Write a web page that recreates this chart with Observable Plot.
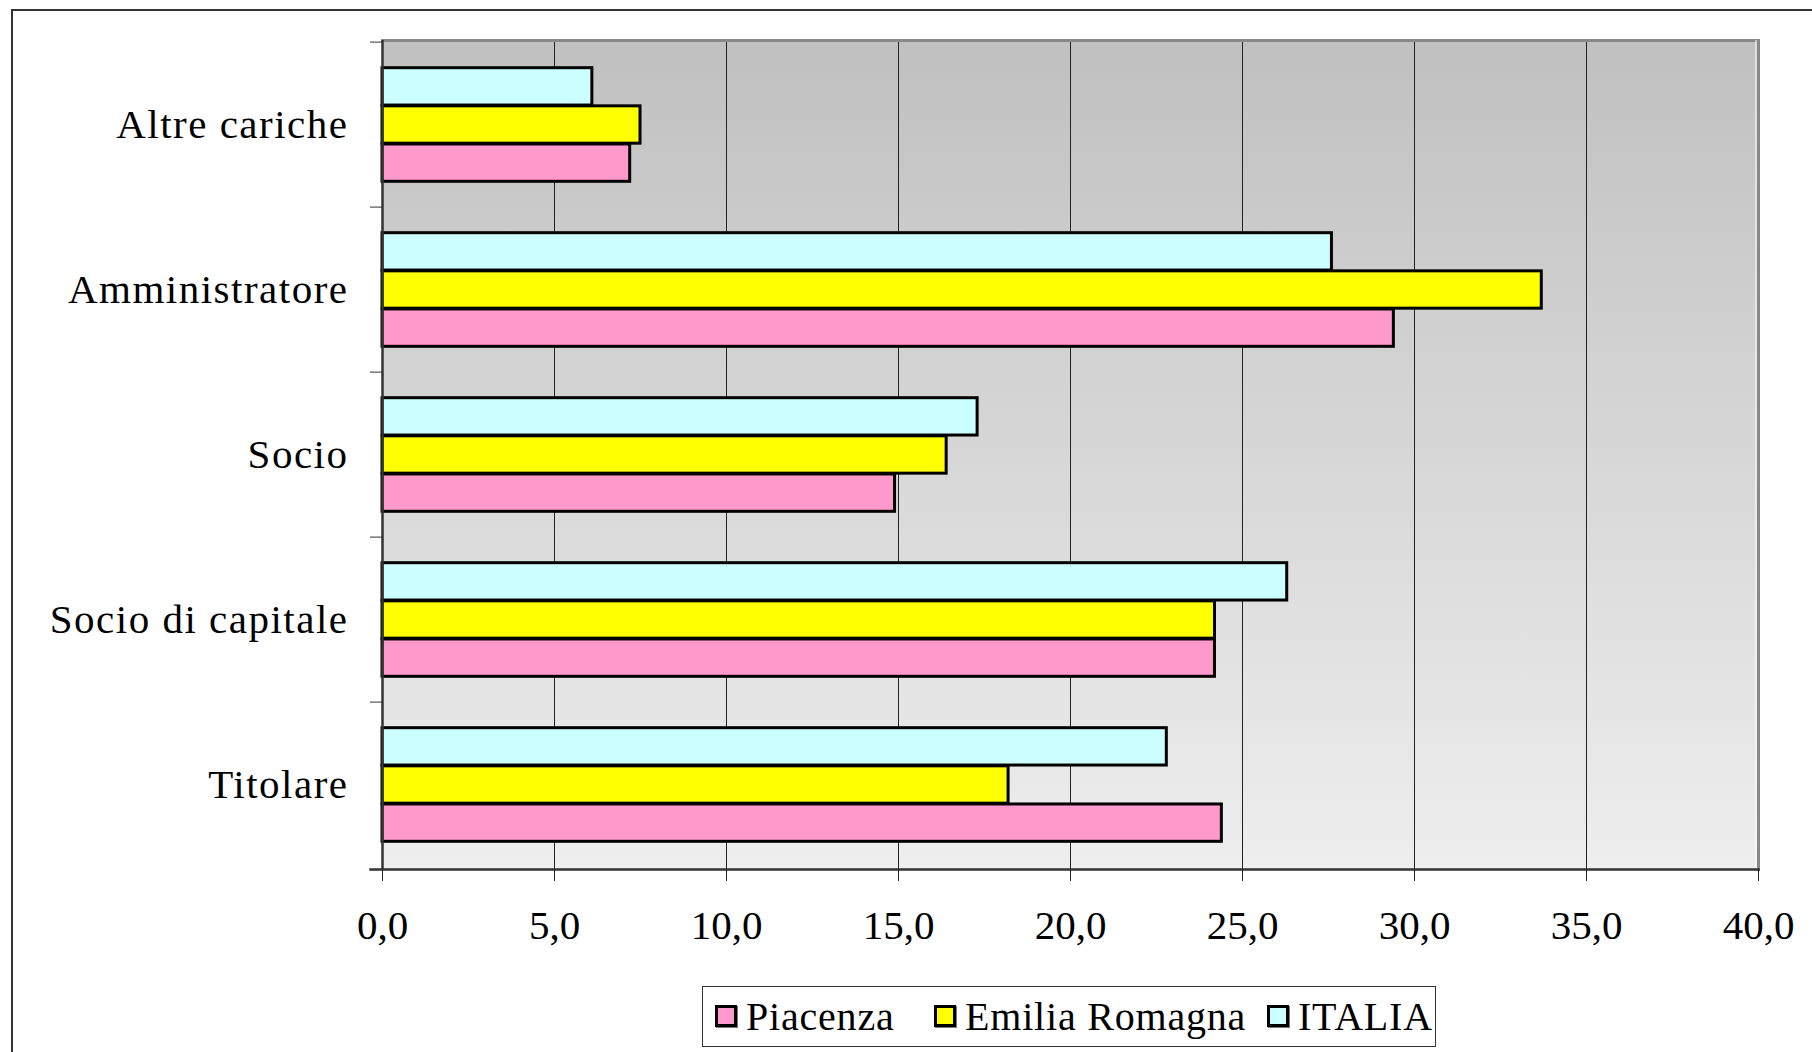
<!DOCTYPE html>
<html>
<head>
<meta charset="utf-8">
<script src="https://cdn.jsdelivr.net/npm/d3@7"></script>
<script src="https://cdn.jsdelivr.net/npm/@observablehq/plot@0.6"></script>
<style>
  html, body { margin: 0; padding: 0; background: #fff; }
  body { width: 1812px; height: 1052px; overflow: hidden; position: relative; font-family: "Liberation Serif", serif; }
  #outer { position: absolute; left: 11px; top: 9px; width: 1900px; height: 1200px; border: 2px solid #333; }
  #chart { position: absolute; left: 0; top: 0; }
  #chart svg g[aria-label="y-axis tick label"] text { letter-spacing: 1.5px; }
  #legend { position: absolute; left: 702px; top: 986px; width: 734px; height: 61px; box-sizing: border-box;
            border: 1.5px solid #333; background: #fff; }
  .item { position: absolute; top: 0; height: 58px; display: flex; align-items: center; }
  .sw { width: 16px; height: 16px; border: 3px solid #000; margin-right: 9px; box-shadow: 1px 1px 0 #777; }
  .lab { font-size: 40px; letter-spacing: 0.8px; color: #000; line-height: 1; padding-top: 2px; }
</style>
</head>
<body>
<svg width="0" height="0" style="position:absolute">
  <defs>
    <linearGradient id="bg" x1="0" y1="0" x2="0" y2="1">
      <stop offset="0" stop-color="#c0c0c0"/>
      <stop offset="1" stop-color="#eeeeee"/>
    </linearGradient>
  </defs>
</svg>
<div id="outer"></div>
<div id="chart"></div>
<div id="legend"></div>
<script>
// ---- data ----
const categories = ["Altre cariche", "Amministratore", "Socio", "Socio di capitale", "Titolare"];
const seriesNames = ["Piacenza", "Emilia Romagna", "ITALIA"];
const piacenza = [7.2, 29.4, 14.9, 24.2, 24.4];
const emilia   = [7.5, 33.7, 16.4, 24.2, 18.2];
const italia   = [6.1, 27.6, 17.3, 26.3, 22.8];
const seriesColors = ["#ff99cc", "#ffff00", "#ccffff"];
const xTicks = [0, 5, 10, 15, 20, 25, 30, 35, 40];
const xTickLabels = ["0,0", "5,0", "10,0", "15,0", "20,0", "25,0", "30,0", "35,0", "40,0"];

const seriesValues = [piacenza, emilia, italia];
const rows = [];
seriesNames.forEach((s, si) => categories.forEach((c, ci) => rows.push({category: c, series: s, value: seriesValues[si][ci]})));

// ---- layout ----
const W = 1812, H = 960, mt = 40, mb = 91, ml = 382, mr = 54;
const band = (H - mt - mb) / categories.length;
const barH = band * 0.23;
const pad = (band - 3 * barH) / 2;
// slot from top: ITALIA 0, Emilia 1, Piacenza 2
const slotOf = {"ITALIA": 0, "Emilia Romagna": 1, "Piacenza": 2};

const bars = seriesNames.map((s, si) => {
  const slot = slotOf[s];
  return Plot.barX(rows.filter(r => r.series === s), {
    x: "value", y: "category",
    fill: seriesColors[si], stroke: "#000", strokeWidth: 3,
    insetTop: pad + slot * barH, insetBottom: pad + (2 - slot) * barH
  });
});

const chart = Plot.plot({
  width: W, height: H,
  marginLeft: ml, marginRight: mr, marginTop: mt, marginBottom: mb,
  style: {fontFamily: "Liberation Serif", fontSize: "41px", color: "#000", background: "transparent", overflow: "visible"},
  x: {domain: [0, 40]},
  y: {domain: categories, paddingInner: 0, paddingOuter: 0},
  marks: [
    Plot.frame({fill: "url(#bg)", stroke: null}),
    Plot.ruleX(xTicks.slice(1, -1), {stroke: "#222", strokeWidth: 1}),
    Plot.frame({anchor: "top", stroke: "#888", strokeWidth: 3}),
    Plot.frame({anchor: "right", stroke: "#888", strokeWidth: 3}),
    Plot.frame({anchor: "right", stroke: "#fff", strokeWidth: 1, insetRight: 2.5}),
    ...bars,
    Plot.ruleX([0], {stroke: "#333", strokeWidth: 2.5}),
    Plot.frame({anchor: "bottom", stroke: "#333", strokeWidth: 2.5, insetLeft: -12}),
    Plot.axisX({ticks: xTicks, tickFormat: d => xTickLabels[xTicks.indexOf(d)], tickSize: 12, tickPadding: 28,
                stroke: "#222", fill: "#000", fontSize: 41, label: null}),
    Plot.axisY({ticks: categories, tickSize: 0, tickPadding: 34, fill: "#000", fontSize: 41, label: null}),
    Plot.axisY({ticks: categories, tickSize: 12, text: null, dy: -band / 2, stroke: "#333", label: null})
  ]
});
document.getElementById("chart").appendChild(chart);

// ---- legend ----
const legend = document.getElementById("legend");
const itemLeft = [12, 231, 564];
seriesNames.forEach((s, i) => {
  const it = document.createElement("div");
  it.className = "item";
  it.style.left = itemLeft[i] + "px";
  const sw = document.createElement("div");
  sw.className = "sw";
  sw.style.background = seriesColors[i];
  const lab = document.createElement("span");
  lab.className = "lab";
  lab.textContent = s;
  it.appendChild(sw); it.appendChild(lab);
  legend.appendChild(it);
});
</script>
</body>
</html>
